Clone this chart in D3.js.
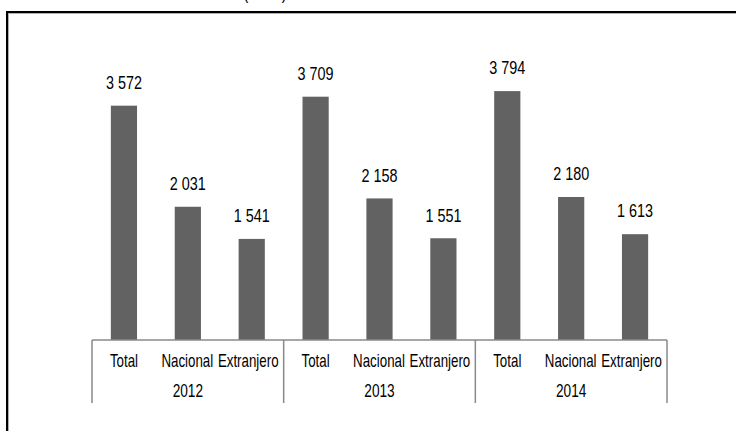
<!DOCTYPE html>
<html>
<head>
<meta charset="utf-8">
<script src="https://cdn.jsdelivr.net/npm/d3@7"></script>
<style>
    body { margin: 0; background: #fff; }
    svg text { font-family: "Liberation Sans", Arial, sans-serif; fill: #000; }
</style>
</head>
<body>
<div id="chart"></div>
<script>
(function() {

    var years = ["2012", "2013", "2014"],
        categories = ["Total", "Nacional", "Extranjero"],
        values2012 = [3572, 2031, 1541],
        values2013 = [3709, 2158, 1551],
        values2014 = [3794, 2180, 1613],
        valueTicks = [0, 4000];

    var width = 736,
        height = 431,
        axisLeft = 92,
        axisRight = 667,
        baseY = 340,
        topY = 77.6,
        tickBottom = 403,
        narrow = 0.8,     // text looks like Arial Narrow
        catNarrow = 0.74;

    //flatten years x categories into one row per bar
    var rows = [];
    [values2012, values2013, values2014].forEach(function(vals, yi) {
        categories.forEach(function(cat, ci) {
            rows.push({year : years[yi], cat : cat, key : years[yi] + "-" + cat, value : vals[ci]});
        });
    });

    var svg = d3.select("#chart")
                .append("svg")
                .attr("width", width)
                .attr("height", height);

    var x = d3.scaleBand()
              .domain(rows.map(function(d) {return d.key; }))
              .range([axisLeft, axisRight])
              .paddingInner(0.59)
              .paddingOuter(0.295);

    var xYear = d3.scaleBand()
                  .domain(years)
                  .range([axisLeft, axisRight]);

    var y = d3.scaleLinear()
              .domain(d3.extent(valueTicks))
              .range([baseY, topY]);

    var step = (axisRight - axisLeft) / rows.length;

    //outer frame, cut by the window on the right and bottom
    svg.append("rect")
       .attr("x", 7)
       .attr("y", 12)
       .attr("width", width + 20)
       .attr("height", height + 20)
       .style("fill", "none")
       .style("stroke", "#000")
       .style("stroke-width", 2);

    svg.append("rect")
       .attr("x", 8.5)
       .attr("y", 13.5)
       .attr("width", width + 20)
       .attr("height", height + 20)
       .style("fill", "none")
       .style("stroke", "#b0b0b0")
       .style("stroke-width", 1);

    //unit line, mostly above the window as in the original
    svg.append("text")
       .attr("transform", "translate(265,-1.5) scale(" + narrow + ",1)")
       .attr("text-anchor", "middle")
       .style("font-size", "18px")
       .text("(Miles)");

    svg.selectAll(".bar")
       .data(rows)
       .enter()
       .append("rect")
       .attr("class", "bar")
       .attr("x", function(d) {return x(d.key); })
       .attr("y", function(d) {return y(d.value); })
       .attr("width", x.bandwidth())
       .attr("height", function(d) {return baseY - y(d.value); })
       .style("fill", "#626262");

    svg.selectAll(".valueLabel")
       .data(rows)
       .enter()
       .append("text")
       .attr("class", "valueLabel")
       .attr("text-anchor", "middle")
       .attr("transform", function(d) {
           return "translate(" + (x(d.key) + x.bandwidth() / 2) + "," + (y(d.value) - 16.7) + ") scale(" + narrow + ",1)";
       })
       .style("font-size", "18px")
       .text(function(d) {return d3.format(",")(d.value).replace(/,/g, " "); });

    //category axis: base line plus group separators
    svg.append("line")
       .attr("x1", axisLeft)
       .attr("x2", axisRight)
       .attr("y1", baseY)
       .attr("y2", baseY)
       .style("stroke", "#8a8a8a")
       .style("stroke-width", 1.5);

    var seps = years.map(function(yr) {return xYear(yr); }).concat([axisRight]);

    svg.selectAll(".groupTick")
       .data(seps)
       .enter()
       .append("line")
       .attr("class", "groupTick")
       .attr("x1", function(d) {return d; })
       .attr("x2", function(d) {return d; })
       .attr("y1", baseY)
       .attr("y2", tickBottom)
       .style("stroke", "#8a8a8a")
       .style("stroke-width", 1.5);

    svg.selectAll(".catLabel")
       .data(rows)
       .enter()
       .append("text")
       .attr("class", "catLabel")
       .attr("text-anchor", "middle")
       .attr("transform", function(d, i) {
           var cx = axisLeft + step * (i + 0.5);
           if (d.cat === "Extranjero") {
               cx -= 3.5;
           } else if (d.cat === "Nacional") {
               cx -= 0.5;
           }
           return "translate(" + cx + ",366.5) scale(" + catNarrow + ",1)";
       })
       .style("font-size", "18px")
       .text(function(d) {return d.cat; });

    svg.selectAll(".yearLabel")
       .data(years)
       .enter()
       .append("text")
       .attr("class", "yearLabel")
       .attr("text-anchor", "middle")
       .attr("transform", function(d) {
           return "translate(" + (xYear(d) + xYear.bandwidth() / 2) + ",396.5) scale(0.76,1)";
       })
       .style("font-size", "18px")
       .text(function(d) {return d; });

})();
</script>
</body>
</html>
